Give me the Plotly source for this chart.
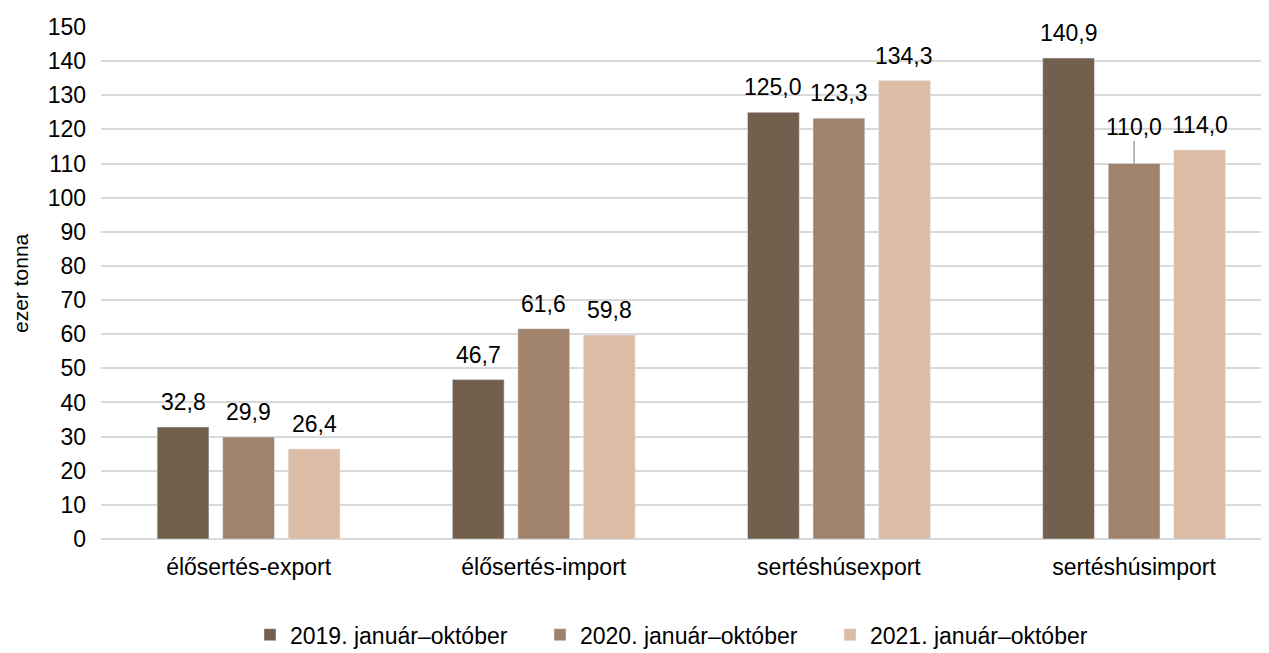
import plotly.graph_objects as go

categories = ["élősertés-export", "élősertés-import", "sertéshúsexport", "sertéshúsimport"]
series_names = ["2019. január–október", "2020. január–október", "2021. január–október"]
v2019 = [32.8, 46.7, 125.0, 140.9]
v2020 = [29.9, 61.6, 123.3, 110.0]
v2021 = [26.4, 59.8, 134.3, 114.0]
colors = ["#735F4D", "#A1836B", "#DDBCA6"]

FONT = "Liberation Sans, Arial, sans-serif"
BARGAP = 0.334
fig = go.Figure()
series = [v2019, v2020, v2021]
for name, vals, col in zip(series_names, series, colors):
    fig.add_trace(go.Bar(x=categories, y=vals, name=name, marker_color=col))

def fmt(v):
    return f"{v:.1f}".replace(".", ",")

slot = (1 - BARGAP) / 3
for i, vals in enumerate(series):
    for j, v in enumerate(vals):
        xpos = j + (i - 1) * slot
        if i == 1 and categories[j] == "sertéshúsimport":
            fig.add_annotation(
                x=xpos, y=v, text=fmt(v), showarrow=True, arrowhead=0,
                arrowcolor="#A6A6A6", arrowwidth=1.5, ax=0, ay=-37,
                font=dict(size=23, color="#000000", family=FONT),
            )
        else:
            fig.add_annotation(
                x=xpos, y=v, text=fmt(v), showarrow=False, yanchor="bottom",
                yshift=10, font=dict(size=23, color="#000000", family=FONT),
            )

fig.add_annotation(
    text="ezer tonna", xref="paper", yref="paper", x=-81/1168, y=0.5,
    textangle=-90, showarrow=False, xanchor="center", yanchor="middle",
    font=dict(size=21, color="#000000", family=FONT),
)

fig.update_layout(
    width=1269, height=653,
    margin=dict(l=93, r=8, t=19, b=122, autoexpand=False),
    paper_bgcolor="white", plot_bgcolor="white",
    barmode="group", bargap=BARGAP, bargroupgap=0.21,
    font=dict(family=FONT, size=23, color="#000000"),
    showlegend=True,
    legend=dict(orientation="h", x=0.5, xanchor="center", y=-0.145, yanchor="top",
                font=dict(size=23, family=FONT), itemwidth=30, traceorder="normal",
                entrywidthmode="pixels", entrywidth=245),
)
fig.update_xaxes(
    range=[-0.5, 3.457], showgrid=False, showline=False, ticks="",
    tickfont=dict(size=23, family=FONT), automargin=False, ticklabelstandoff=12,
)
fig.update_yaxes(
    range=[0, 150], dtick=10, tick0=0, showgrid=True, gridcolor="#D9D9D9", gridwidth=2,
    zeroline=True, zerolinecolor="#D9D9D9", zerolinewidth=2, showline=False,
    tickfont=dict(size=23, family=FONT), ticklabelstandoff=14, automargin=False,
)

fig.write_html("out.html")
